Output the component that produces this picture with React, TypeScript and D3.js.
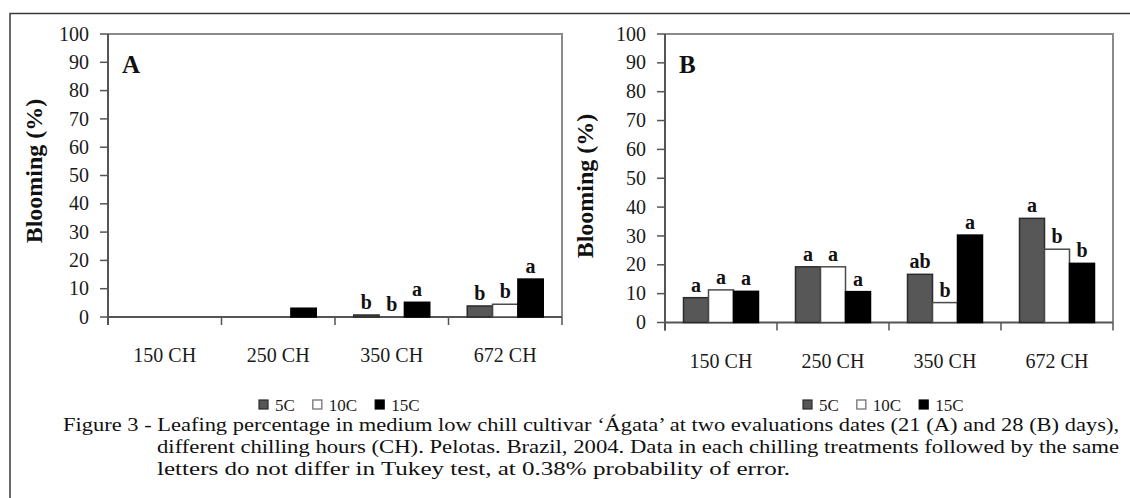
import React, { useRef, useEffect } from 'react';
import * as d3 from 'd3';

const categories = ['150 CH', '250 CH', '350 CH', '672 CH'];
const seriesNames = ['5C', '10C', '15C'];
const yTicks = [0, 10, 20, 30, 40, 50, 60, 70, 80, 90, 100];

// panel A - 21 days
const a5C = [0, 0, 0.7, 3.9];
const a10C = [0, 0, 0, 4.5];
const a15C = [0, 3.1, 5.2, 13.4];
const aLetters5C = ['', '', 'b', 'b'];
const aLetters10C = ['', '', 'b', 'b'];
const aLetters15C = ['', '', 'a', 'a'];

// panel B - 28 days
const b5C = [8.6, 19.3, 16.7, 36.1];
const b10C = [11.3, 19.3, 6.9, 25.4];
const b15C = [10.8, 10.7, 30.3, 20.5];
const bLetters5C = ['a', 'a', 'ab', 'a'];
const bLetters10C = ['a', 'a', 'b', 'b'];
const bLetters15C = ['a', 'a', 'a', 'b'];

const captionLines = [
  'Figure 3 - Leafing percentage in medium low chill cultivar \u2018\u00C1gata\u2019 at two evaluations dates (21 (A) and 28 (B) days),',
  'different chilling hours (CH). Pelotas. Brazil, 2004. Data in each chilling treatments followed by the same',
  'letters do not differ in Tukey test, at 0.38% probability of error.',
];

const FONT = '"Liberation Serif", "Times New Roman", serif';
const fills = ['#575757', '#ffffff', '#000000'];
const strokes = ['#2b2b2b', '#4a4a4a', '#000000'];

const App = () => {
  const chartRef = useRef<SVGSVGElement>(null);

  useEffect(() => {
    drawChart();
  }, []);

  const drawPanel = (svg: any, p: any) => {
    const g = svg.append('g');
    const x = d3.scaleBand().domain(categories).range([p.left, p.right]).padding(0);
    const xs = d3.scaleBand().domain(seriesNames).range([0, x.bandwidth()]).paddingInner(0).paddingOuter(0.74);
    const y = d3.scaleLinear().domain([0, 100]).range([p.bottom, p.top]);

    // plot border (top / right)
    g.append('path')
      .attr('d', `M${p.left},${p.top}H${p.right}V${p.bottom}`)
      .attr('fill', 'none')
      .attr('stroke', '#8a8a8a')
      .attr('stroke-width', 2);

    // y axis
    g.append('line')
      .attr('x1', p.left).attr('x2', p.left)
      .attr('y1', p.top).attr('y2', p.bottom + 8)
      .attr('stroke', '#555').attr('stroke-width', 2);
    yTicks.forEach((t) => {
      g.append('line')
        .attr('x1', p.left - 8).attr('x2', p.left)
        .attr('y1', y(t)).attr('y2', y(t))
        .attr('stroke', '#555').attr('stroke-width', 1.5);
      g.append('text')
        .attr('x', p.left - 19)
        .attr('y', y(t))
        .attr('dy', '0.33em')
        .attr('text-anchor', 'end')
        .style('font-family', FONT)
        .style('font-size', '20px')
        .attr('fill', '#1a1a1a')
        .text(t);
    });

    // x axis
    g.append('line')
      .attr('x1', p.left).attr('x2', p.right)
      .attr('y1', p.bottom).attr('y2', p.bottom)
      .attr('stroke', '#555').attr('stroke-width', 2);
    const edges = categories.map((c) => x(c) as number).concat([p.right]);
    edges.forEach((e) => {
      g.append('line')
        .attr('x1', e).attr('x2', e)
        .attr('y1', p.bottom).attr('y2', p.bottom + 8)
        .attr('stroke', '#555').attr('stroke-width', 1.5);
    });
    categories.forEach((c) => {
      g.append('text')
        .attr('x', (x(c) as number) + x.bandwidth() / 2)
        .attr('y', p.bottom + 45)
        .attr('text-anchor', 'middle')
        .style('font-family', FONT)
        .style('font-size', '20px')
        .attr('fill', '#1a1a1a')
        .text(c);
    });

    // bars and letters
    p.values.forEach((vals: number[], si: number) => {
      const s = seriesNames[si];
      vals.forEach((v, ci) => {
        const bx = (x(categories[ci]) as number) + (xs(s) as number);
        if (v > 0) {
          g.append('rect')
            .attr('x', bx)
            .attr('y', y(v))
            .attr('width', xs.bandwidth())
            .attr('height', p.bottom - y(v))
            .attr('fill', fills[si])
            .attr('stroke', strokes[si])
            .attr('stroke-width', 1.5);
        }
        const letter = p.letters[si][ci];
        if (letter) {
          g.append('text')
            .attr('x', bx + xs.bandwidth() / 2)
            .attr('y', y(v) - 6)
            .attr('text-anchor', 'middle')
            .style('font-family', FONT)
            .style('font-size', '20px')
            .style('font-weight', 'bold')
            .attr('fill', '#111')
            .text(letter);
        }
      });
    });

    // panel letter
    g.append('text')
      .attr('x', p.left + 14)
      .attr('y', p.top + 39)
      .style('font-family', FONT)
      .style('font-size', '25px')
      .style('font-weight', 'bold')
      .attr('fill', '#111')
      .text(p.label);

    // y title
    g.append('text')
      .attr('transform', `translate(${p.titleX},${p.titleY}) rotate(-90)`)
      .attr('text-anchor', 'middle')
      .style('font-family', FONT)
      .style('font-size', '24px')
      .style('font-weight', 'bold')
      .attr('fill', '#111')
      .text('Blooming (%)');

    // legend
    let lx = p.legendX;
    seriesNames.forEach((s, i) => {
      g.append('rect')
        .attr('x', lx).attr('y', p.legendY - 11)
        .attr('width', 9).attr('height', 9)
        .attr('fill', fills[i])
        .attr('stroke', i === 1 ? '#666' : strokes[i])
        .attr('stroke-width', 1.2);
      const t = g.append('text')
        .attr('x', lx + 16)
        .attr('y', p.legendY)
        .style('font-family', FONT)
        .style('font-size', '17px')
        .attr('fill', '#1a1a1a')
        .text(s);
      const w = (t.node() as SVGTextElement).getComputedTextLength();
      lx += 16 + w + 18;
    });
  };

  const drawChart = () => {
    const svg = d3.select(chartRef.current);
    svg.selectAll('*').remove();

    svg.append('rect')
      .attr('width', 1130).attr('height', 498)
      .attr('fill', '#fff');

    // outer frame, cut off at the right and bottom
    svg.append('rect')
      .attr('x', 10).attr('y', 13.5)
      .attr('width', 1200).attr('height', 600)
      .attr('fill', 'none')
      .attr('stroke', '#3a3a3a')
      .attr('stroke-width', 1.5);

    drawPanel(svg, {
      left: 108, right: 562, top: 34, bottom: 317,
      values: [a5C, a10C, a15C],
      letters: [aLetters5C, aLetters10C, aLetters15C],
      label: 'A', titleX: 42, titleY: 171,
      legendX: 259, legendY: 411,
    });
    drawPanel(svg, {
      left: 665, right: 1113, top: 34, bottom: 322.5,
      values: [b5C, b10C, b15C],
      letters: [bLetters5C, bLetters10C, bLetters15C],
      label: 'B', titleX: 593, titleY: 186,
      legendX: 803, legendY: 411,
    });

    // caption (justified lines)
    const capX = [63, 157, 157];
    const capEnd = [1119, 1119, 790];
    const capY = [431, 453, 475];
    captionLines.forEach((line, i) => {
      svg.append('text')
        .attr('x', capX[i])
        .attr('y', capY[i])
        .attr('textLength', capEnd[i] - capX[i])
        .attr('lengthAdjust', 'spacingAndGlyphs')
        .style('font-family', FONT)
        .style('font-size', '19px')
        .attr('fill', '#111')
        .text(line);
    });
  };

  return (
    <svg
      ref={chartRef}
      width={1130}
      height={498}
      style={{ position: 'absolute', left: 0, top: 0 }}
    />
  );
};

export default App;
